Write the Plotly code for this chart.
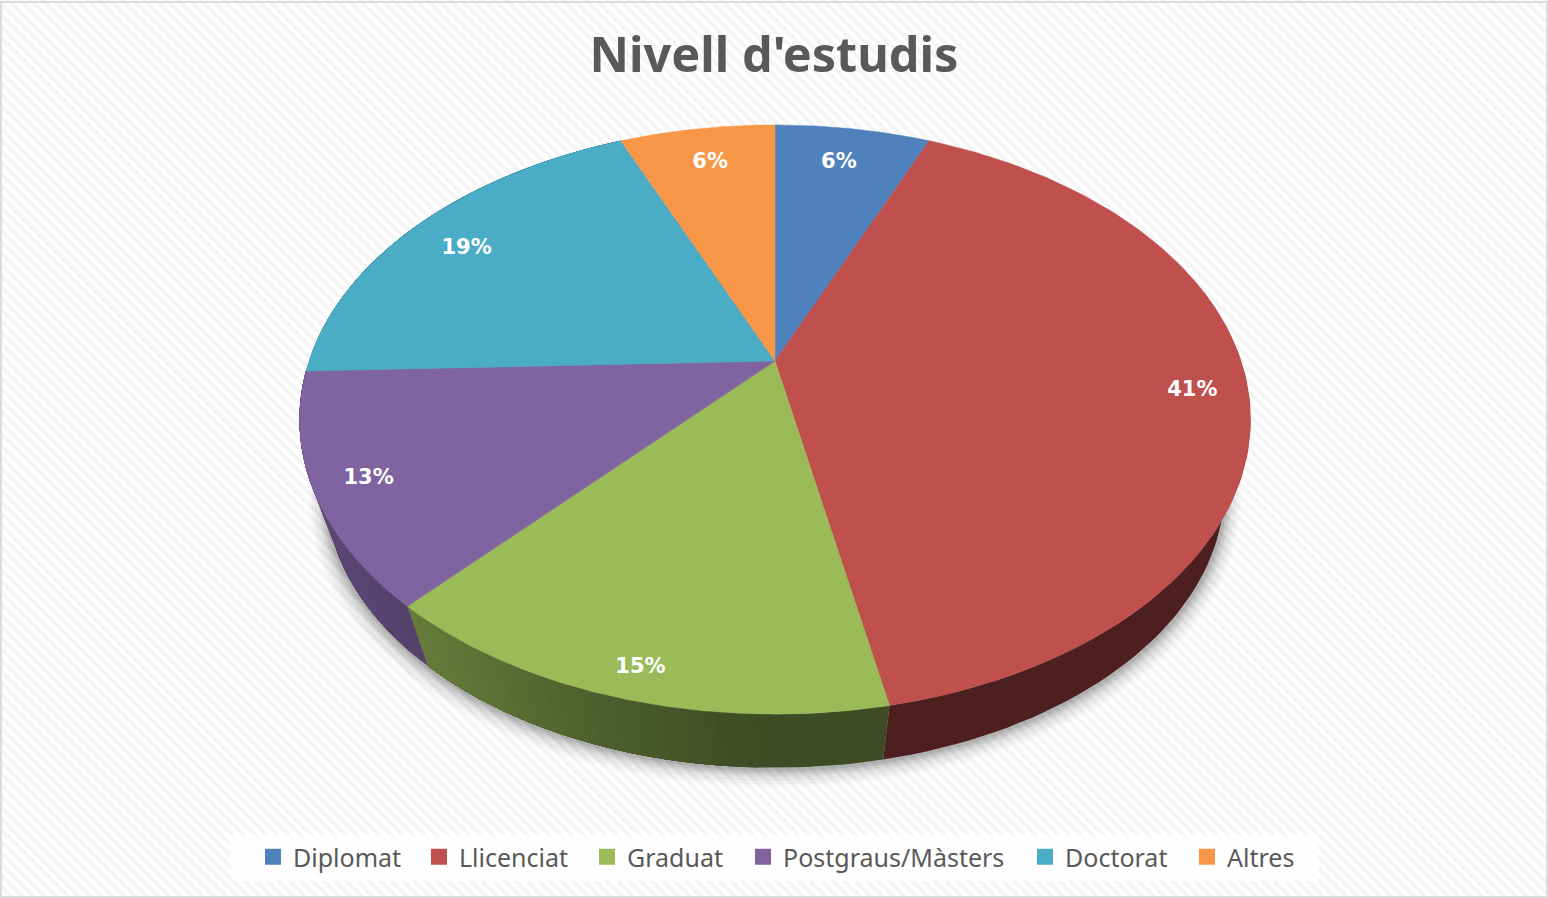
import base64
import numpy as np
import plotly.graph_objects as go

# ---- data ----
categories = ["Diplomat", "Llicenciat", "Graduat", "Postgraus/Màsters", "Doctorat", "Altres"]
shares = [6.4, 40.43, 14.92, 12.69, 19.16, 6.4]
percent_labels = ["6%", "41%", "15%", "13%", "19%", "6%"]
colors = ["#4f81bd", "#c0504d", "#9bbb59", "#8064a2", "#4bacc6", "#f79646"]
title_text = "Nivell d'estudis"

# ---- drawing constants (perspective disc seen from above) ----
W, H = 1548, 898
CX, CY = 775.0, 361.0
A, B, K = 466.0, 283.0, 0.1986
WALL_SCALE, WALL_DROP = 0.945, 73.0
LABEL_R = [0.85, 0.88, 0.92, 0.90, 0.85, 0.85]
LABEL_DX = [-4, 2, 4, 5, -2, 3]
LABEL_DY = [4, 4, 2, 2, 6, 4]
LEGEND_X = [253, 419, 587, 743, 1025, 1187]
GREY = "#595959"


def project(t, r=1.0):
    """t = clockwise angle in radians from 12 o'clock, r = fraction of radius."""
    X, Y = r * np.sin(t), r * np.cos(t)
    w = 1 + K * Y
    return CX + A * X / w, CY - B * Y / w


def lower(x, y):
    return CX + WALL_SCALE * (x - CX), CY + WALL_SCALE * (y - CY) + WALL_DROP


def shade(hex_color, f):
    rgb = [int(hex_color[i:i + 2], 16) for i in (1, 3, 5)]
    return "rgb(%d,%d,%d)" % tuple(round(c * f) for c in rgb)


cum = np.concatenate([[0], np.cumsum(shares)]) / sum(shares) * 2 * np.pi
fig = go.Figure()

# soft shadow beneath the disc
full = np.linspace(0, 2 * np.pi, 361)
fx, fy = lower(*project(full))
for grow, alpha in [(18, .02), (15, .03), (12, .035), (9, .045), (7, .055), (5, .065), (3, .08)]:
    s = 1 + grow / 475.0
    fig.add_trace(go.Scatter(
        x=CX + s * (fx - CX), y=CY + (fy + grow * 0.25 - CY) * s,
        mode="lines", fill="toself", line=dict(width=0),
        fillcolor="rgba(0,0,0,%s)" % alpha, hoverinfo="skip", showlegend=False))

# side wall: each band runs on to the end of its slice and the next one overlays it,
# so the gradient has no seams
for i, col in enumerate(colors):
    n = max(2, int((cum[i + 1] - cum[i]) / np.radians(1)))
    edges = np.linspace(cum[i], cum[i + 1], n + 1)
    last = None
    for a, b in zip(edges[:-1], edges[1:]):
        if np.cos((a + b) / 2) > 0.25:
            continue
        mx, _ = project((a + b) / 2)
        f = round(float(np.interp(mx, [300, 410, 600, 760, 1250], [.72, .66, .5, .4, .4])), 3)
        if f == last:
            continue
        last = f
        ts = np.linspace(a, cum[i + 1], 60)
        tx, ty = project(ts)
        lx, ly = lower(tx, ty)
        c = shade(col, f)
        fig.add_trace(go.Scatter(
            x=np.concatenate([tx, lx[::-1]]), y=np.concatenate([ty, ly[::-1]]),
            mode="lines", fill="toself", line=dict(width=0), fillcolor=c,
            hoverinfo="skip", showlegend=False))

# top face
for i, col in enumerate(colors):
    ts = np.linspace(cum[i], cum[i + 1], 120)
    tx, ty = project(ts)
    fig.add_trace(go.Scatter(
        x=np.concatenate([[CX], tx, [CX]]), y=np.concatenate([[CY], ty, [CY]]),
        mode="lines", fill="toself", line=dict(width=0.5, color=col), fillcolor=col,
        name=categories[i], hoverinfo="name", showlegend=False))

# percentage labels
for i, cat in enumerate(categories):
    lx, ly = project((cum[i] + cum[i + 1]) / 2, LABEL_R[i])
    fig.add_trace(go.Scatter(
        x=[lx + LABEL_DX[i]], y=[ly + LABEL_DY[i]], mode="text", text=[percent_labels[i]],
        textfont=dict(family="DejaVu Sans", size=21, color="white", weight="bold"),
        hoverinfo="skip", showlegend=False))

# legend entries, each in its own legend so that it sits at its own position
legend_layout = {}
for i, cat in enumerate(categories):
    key = "legend" if i == 0 else "legend%d" % (i + 1)
    fig.add_trace(go.Scatter(
        x=[None], y=[None], mode="markers", name=cat, legend=key,
        marker=dict(symbol="square", size=16, color=colors[i])))
    legend_layout[key] = dict(
        x=LEGEND_X[i] / W, y=1 - 857 / H, xanchor="left", yanchor="middle",
        bgcolor="rgba(0,0,0,0)", borderwidth=0, itemclick=False, itemdoubleclick=False,
        font=dict(family="Noto Sans", size=25, color=GREY))

# faint diagonal hatch of the chart area
svg = (
    '<svg xmlns="http://www.w3.org/2000/svg" width="%d" height="%d">'
    '<defs><pattern id="p" width="8" height="8" patternUnits="userSpaceOnUse" '
    'patternTransform="rotate(45)"><rect width="8" height="4" y="0" fill="#f5f5f5"/></pattern></defs>'
    '<rect width="100%%" height="100%%" fill="#ffffff"/><rect width="100%%" height="100%%" fill="url(#p)"/></svg>'
    % (W, H))
src = "data:image/svg+xml;base64," + base64.b64encode(svg.encode()).decode()

fig.update_layout(
    width=W, height=H, autosize=False,
    margin=dict(l=0, r=0, t=0, b=0),
    paper_bgcolor="white", plot_bgcolor="rgba(0,0,0,0)",
    xaxis=dict(range=[0, W], visible=False, fixedrange=True),
    yaxis=dict(range=[H, 0], visible=False, fixedrange=True),
    images=[dict(source=src, xref="paper", yref="paper", x=0, y=1, sizex=1, sizey=1,
                 xanchor="left", yanchor="top", sizing="stretch", layer="below")],
    shapes=[
        dict(type="rect", xref="x", yref="y", x0=231, x1=1318, y0=835, y1=881,
             fillcolor="rgba(255,255,255,0.8)", line=dict(width=0), layer="below"),
        dict(type="rect", xref="x", yref="y", x0=1, x1=W - 1, y0=2, y1=H - 1,
             fillcolor="rgba(0,0,0,0)", line=dict(color="#dcdcdc", width=2), layer="above"),
    ],
    title=dict(text=title_text, x=0.5, xanchor="center", y=1 - 55 / H, yanchor="middle",
               font=dict(family="Noto Sans", size=48.6, color=GREY, weight="bold")),
    **legend_layout,
)
fig.write_html("out.html", config=dict(displayModeBar=False),
               post_script="document.body.style.margin='0';document.body.style.overflow='hidden';")
